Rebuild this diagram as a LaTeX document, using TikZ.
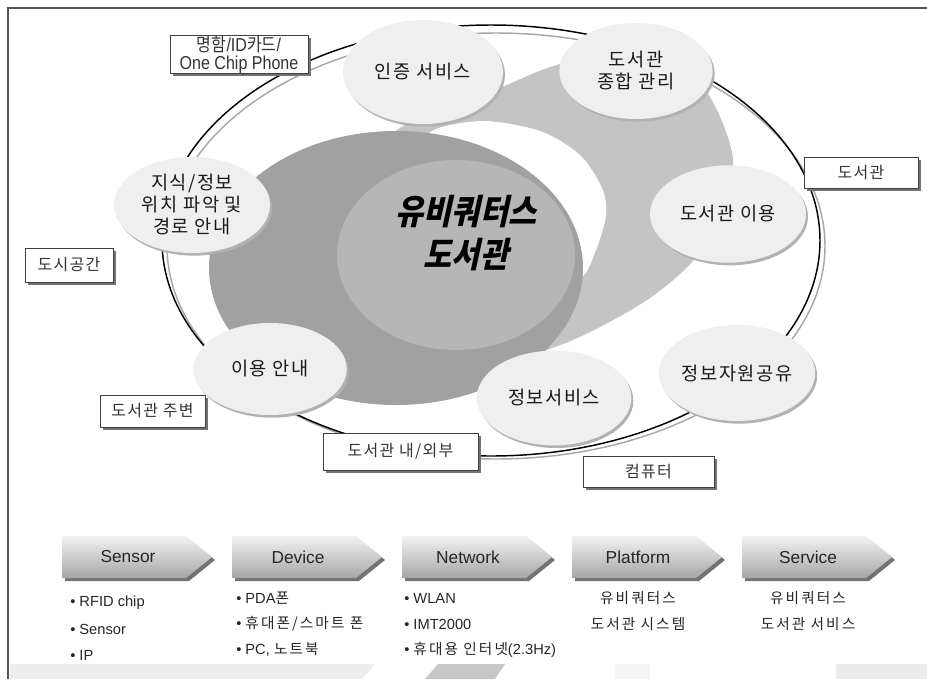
\documentclass[tikz,border=0pt]{standalone}
\usepackage{fontspec}
\setmainfont{Noto Sans CJK KR}
\newfontfamily\konarrow[FakeStretch=0.86]{Noto Sans CJK KR}
\newfontfamily\kospaced[LetterSpace=8]{Noto Sans CJK KR}
\newfontfamily\kolist[LetterSpace=14]{Noto Sans CJK KR}
\newfontfamily\latnarrow[FakeStretch=0.86]{Liberation Sans}
\newfontfamily\latplain{Liberation Sans}
\newfontfamily\titlefont[FakeSlant=0.22,FakeStretch=0.88]{Noto Sans CJK KR}
\usepackage{tikz}
\usetikzlibrary{shapes.geometric}
\definecolor{bubblefill}{HTML}{EFEFEF}
\definecolor{bubshadow}{HTML}{B2B2B2}
\definecolor{darkring}{HTML}{A1A1A1}
\definecolor{midcore}{HTML}{B6B6B6}
\definecolor{lightband}{HTML}{C4C4C4}
\definecolor{ringgray}{HTML}{A8A8A8}
\definecolor{framegray}{HTML}{555555}
\tikzstyle{bubble} = [ellipse, fill=bubblefill, inner sep=0pt, align=center,
    font=\kospaced\fontsize{14}{16.5}\selectfont, text=black!90,
    preaction={fill=bubshadow, transform canvas={shift={(1.5pt,-2pt)}}}]
\tikzstyle{tagbox} = [rectangle, draw=black!75, fill=white, line width=0.6pt,
    inner sep=0pt, font=\kospaced\fontsize{12}{14}\selectfont, text=black!80,
    preaction={fill=black!55, transform canvas={shift={(2pt,-2pt)}}}]
\tikzstyle{chevtext} = [font=\latplain\fontsize{13}{15}\selectfont, text=black!85]
\tikzstyle{item} = [font=\latplain\fontsize{11}{13}\selectfont, text=black!85, inner sep=0pt]

\begin{document}
\begin{tikzpicture}[x=0.75pt,y=-0.75pt]
\useasboundingbox (0,0) rectangle (927,679);
    %frame
    \draw[framegray, line width=1.1pt] (8,679) -- (8,8) -- (927,8);
    %outer rings
    \draw[ringgray, line width=1.1pt] (496,246) ellipse [x radius=329, y radius=213];
    \draw[black, line width=1.1pt] (491,240.5) ellipse [x radius=329, y radius=215.5];
    %core shapes
    \fill[lightband] plot[smooth cycle] coordinates {(365,215) (380,160) (397,130)
        (440,111) (497,89) (560,64) (630,56) (690,75) (716,108) (733,160) (722,215)
        (692,262) (650,298) (600,327) (555,347) (490,365) (410,340)};
    \fill[white] plot[smooth cycle] coordinates {(420,160) (432,131) (483,121)
        (540,131) (580,155) (602,188) (606,215) (596,250) (578,280) (520,290) (450,260)};
    \fill[darkring] (396,268) ellipse [x radius=187, y radius=137];
    \fill[midcore] (456,255) ellipse [x radius=119, y radius=95];
    \node[align=center, font=\titlefont\bfseries\fontsize{26}{32}\selectfont] (core)
        at (466,233) {유비쿼터스\\도서관};
    %bubbles
    \node[bubble, minimum width=120pt, minimum height=78pt] (auth) at (423,72) {인증 서비스};
    \node[bubble, minimum width=115pt, minimum height=72pt] (manage) at (636,71) {도서관\\종합 관리};
    \node[bubble, minimum width=117pt, minimum height=72pt] (guide) at (192,205) {지식/정보\\위치 파악 및\\경로 안내};
    \node[bubble, minimum width=117pt, minimum height=73pt] (use) at (728,214) {도서관 이용};
    \node[bubble, minimum width=115pt, minimum height=69pt] (info) at (270,369) {이용 안내};
    \node[bubble, minimum width=116pt, minimum height=71pt] (serv) at (554,398) {정보서비스};
    \node[bubble, minimum width=115pt, minimum height=72pt] (share) at (737,373) {정보자원공유};
    %boxes
    \node[tagbox, minimum width=103.5pt, minimum height=27.75pt, align=center,
        font=\latnarrow\fontsize{14}{13.5}\selectfont] (card) at (239,54.5)
        {{\konarrow 명함}/ID{\konarrow 카드}/\\One Chip Phone};
    \node[tagbox, minimum width=85.5pt, minimum height=23.25pt] (lib) at (861,172.5) {도서관};
    \node[tagbox, minimum width=66pt, minimum height=25.5pt] (city) at (69,265) {도시공간};
    \node[tagbox, minimum width=78.75pt, minimum height=24pt] (near) at (152.5,411) {도서관 주변};
    \node[tagbox, minimum width=116.25pt, minimum height=27.75pt] (inout) at (400.5,451.5) {도서관 내/외부};
    \node[tagbox, minimum width=98.25pt, minimum height=23.25pt] (pc) at (648.5,471.5) {컴퓨터};
    %chevrons
    \foreach \lbl/\xx/\nm in {Sensor/62/sensor, Device/232/device, Network/402/network,
        Platform/572/platform, Service/742/service} {
        \fill[black!55] (\xx+3,539) -- (\xx+127,539) -- (\xx+153,560) -- (\xx+127,581)
            -- (\xx+3,581) -- cycle;
        \shade[top color=black!5, middle color=black!17, bottom color=black!35]
            (\xx,536) -- (\xx+124,536) -- (\xx+150,557) -- (\xx+124,578) -- (\xx,578) -- cycle;
        \node[chevtext] (\nm) at (\xx+66,557) {\lbl};
    }
    %lists
    \node[item, anchor=west] (s1) at (70,603) {• RFID chip};
    \node[item, anchor=west] (s2) at (70,629) {• Sensor};
    \node[item, anchor=west] (s3) at (70,655) {• IP};
    \node[item, anchor=west] (d1) at (236,598) {• PDA{\kolist 폰}};
    \node[item, anchor=west] (d2) at (236,624) {• {\kolist 휴대폰/스마트 폰}};
    \node[item, anchor=west] (d3) at (236,650) {• PC, {\kolist 노트북}};
    \node[item, anchor=west] (n1) at (404,598) {• WLAN};
    \node[item, anchor=west] (n2) at (404,624) {• IMT2000};
    \node[item, anchor=west] (n3) at (404,650) {• {\kolist 휴대용 인터넷}(2.3Hz)};
    \node[item] (p1) at (638,598) {\kolist 유비쿼터스};
    \node[item] (p2) at (638,624) {\kolist 도서관 시스템};
    \node[item] (v1) at (808,598) {\kolist 유비쿼터스};
    \node[item] (v2) at (808,624) {\kolist 도서관 서비스};
    %bottom strip
    \fill[black!7] (10,664) -- (375,664) -- (362,679) -- (10,679) -- cycle;
    \fill[black!22] (438,664) -- (505,664) -- (495,679) -- (425,679) -- cycle;
    \fill[black!4] (615,664) rectangle (650,679);
    \fill[black!8] (836,664) rectangle (927,679);
\end{tikzpicture}
\end{document}
